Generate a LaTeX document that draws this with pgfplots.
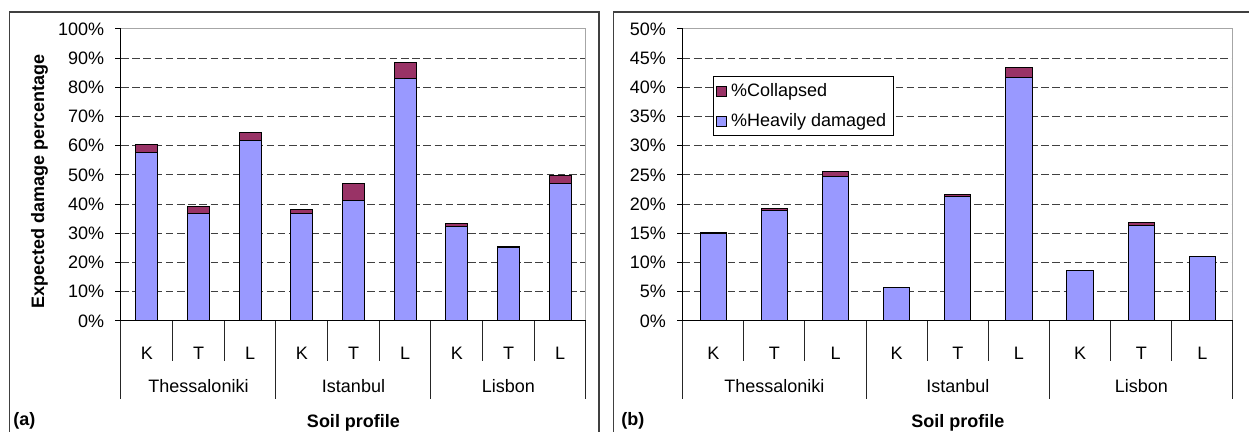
\documentclass[border=0pt]{standalone}
\usepackage{pgfplots}
\pgfplotsset{compat=1.18}
\usepackage{fontspec}
\setmainfont{Liberation Sans}
\definecolor{heavy}{HTML}{9999FF}
\definecolor{coll}{HTML}{993366}
\newcommand{\fs}{\fontsize{9}{10.5}\selectfont}

\pgfplotstableread{
x heavy coll
0 57.7 2.6
1 36.8 2.5
2 61.8 2.9
3 36.8 1.4
4 41.1 6.0
5 82.9 5.5
6 32.3 1.1
7 25.0 0.6
8 47.1 2.6
}\tableA
\pgfplotstableread{
x heavy coll
0 14.9 0.3
1 18.9 0.3
2 24.7 0.9
3 5.7 0.0
4 21.4 0.3
5 41.75 1.6
6 8.65 0.0
7 16.4 0.4
8 11.1 0.0
}\tableB

\pgfplotsset{
  mystyle/.style={
    scale only axis,
    anchor=south west,
    height=146pt,
    ybar stacked,
    bar width=0.43,
    xmin=-0.5, xmax=8.5,
    ymin=0,
    clip=false,
    xtick={0,...,8},
    xticklabels={K,T,L,K,T,L,K,T,L},
    major x tick style={draw=none},
    xticklabel style={anchor=center, yshift=-13.5pt, font=\fs},
    extra x ticks={1,4,7},
    extra x tick labels={Thessaloniki,Istanbul,Lisbon},
    extra x tick style={grid=none, major tick length=0pt, xticklabel style={anchor=center, yshift=-19pt}},
    ytick pos=left,
    tick align=outside,
    major tick length=2.85pt,
    every tick/.style={black, line width=0.5pt},
    yticklabel style={font=\fs, xshift=-2.0pt},
    ymajorgrids,
    grid style={black!75, line width=0.5pt, dash pattern=on 3.8pt off 1.8pt},
    extra y tick style={grid=none},
    axis line style={draw=gray!70, line width=0.5pt},
    every axis x label/.style={at={(axis description cs:0.5,0)}, yshift=-51pt, anchor=center, font=\fs\bfseries},
  },
  bstyle/.style={draw=black, line width=0.5pt, legend image code/.code={\draw[##1, draw=black, line width=0.5pt] (0pt,-2.5pt) rectangle (5pt,2.5pt);}},
}

\newcommand{\dividers}{%
  \draw[black, line width=0.5pt] (rel axis cs:0,1) -- (rel axis cs:0,0) -- (rel axis cs:1,0);
  \draw[black!85, line width=0.5pt] (axis cs:0.5,0) -- ([yshift=-20pt]axis cs:0.5,0);
  \draw[black!85, line width=0.5pt] (axis cs:1.5,0) -- ([yshift=-20pt]axis cs:1.5,0);
  \draw[black!85, line width=0.5pt] (axis cs:3.5,0) -- ([yshift=-20pt]axis cs:3.5,0);
  \draw[black!85, line width=0.5pt] (axis cs:4.5,0) -- ([yshift=-20pt]axis cs:4.5,0);
  \draw[black!85, line width=0.5pt] (axis cs:6.5,0) -- ([yshift=-20pt]axis cs:6.5,0);
  \draw[black!85, line width=0.5pt] (axis cs:7.5,0) -- ([yshift=-20pt]axis cs:7.5,0);
  \draw[black!85, line width=0.5pt] (axis cs:-0.5,0) -- ([yshift=-39pt]axis cs:-0.5,0);
  \draw[black!85, line width=0.5pt] (axis cs:2.5,0) -- ([yshift=-39pt]axis cs:2.5,0);
  \draw[black!85, line width=0.5pt] (axis cs:5.5,0) -- ([yshift=-39pt]axis cs:5.5,0);
  \draw[black!85, line width=0.5pt] (axis cs:8.5,0) -- ([yshift=-39pt]axis cs:8.5,0);
}

\begin{document}
\begin{tikzpicture}
% panel frames
\draw[black!75, line width=0.6pt] (4.75pt,-5pt) -- (4.75pt,210pt) -- (299.5pt,210pt) -- (299.5pt,-5pt);
\draw[black!75, line width=0.6pt] (306.65pt,-5pt) -- (306.65pt,210pt) -- (630pt,210pt);

\begin{axis}[mystyle, at={(60.5pt,55.5pt)}, width=232.5pt,
  ymax=100,
  ytick={0,10,...,90},
  yticklabels={0\%,10\%,20\%,30\%,40\%,50\%,60\%,70\%,80\%,90\%},
  extra y ticks={100}, extra y tick labels={100\%},
  xlabel={Soil profile},
  ylabel={Expected damage percentage},
  every axis y label/.style={at={(axis description cs:0,0.477)}, xshift=-40.75pt, rotate=90, anchor=center, font=\fs\bfseries},
]
\addplot[bstyle, fill=heavy] table[x=x, y=heavy] {\tableA};
\addplot[bstyle, fill=coll] table[x=x, y=coll] {\tableA};
\dividers
\end{axis}

\begin{axis}[mystyle, at={(341.35pt,55.5pt)}, width=275.15pt,
  ymax=50,
  ytick={0,5,...,45},
  yticklabels={0\%,5\%,10\%,15\%,20\%,25\%,30\%,35\%,40\%,45\%},
  extra y ticks={50}, extra y tick labels={50\%},
  xlabel={Soil profile},
  reverse legend,
  legend style={at={(rel axis cs:0.0545,0.839)}, anchor=north west, draw=black, fill=white, font=\fs, line width=0.5pt, inner xsep=1.5pt, inner ysep=1.3pt, row sep=3pt},
  legend cell align=left,
]
\addplot[bstyle, fill=heavy] table[x=x, y=heavy] {\tableB};
\addplot[bstyle, fill=coll] table[x=x, y=coll] {\tableB};
\legend{\%Heavily damaged,\%Collapsed}
\dividers
\end{axis}

\node[anchor=west, font=\fs\bfseries, inner sep=0pt] at (6.5pt,5.5pt) {(a)};
\node[anchor=west, font=\fs\bfseries, inner sep=0pt] at (310.5pt,5.5pt) {(b)};

\pgfresetboundingbox
\useasboundingbox (0,0) rectangle (624.5pt,216pt);
\end{tikzpicture}
\end{document}
